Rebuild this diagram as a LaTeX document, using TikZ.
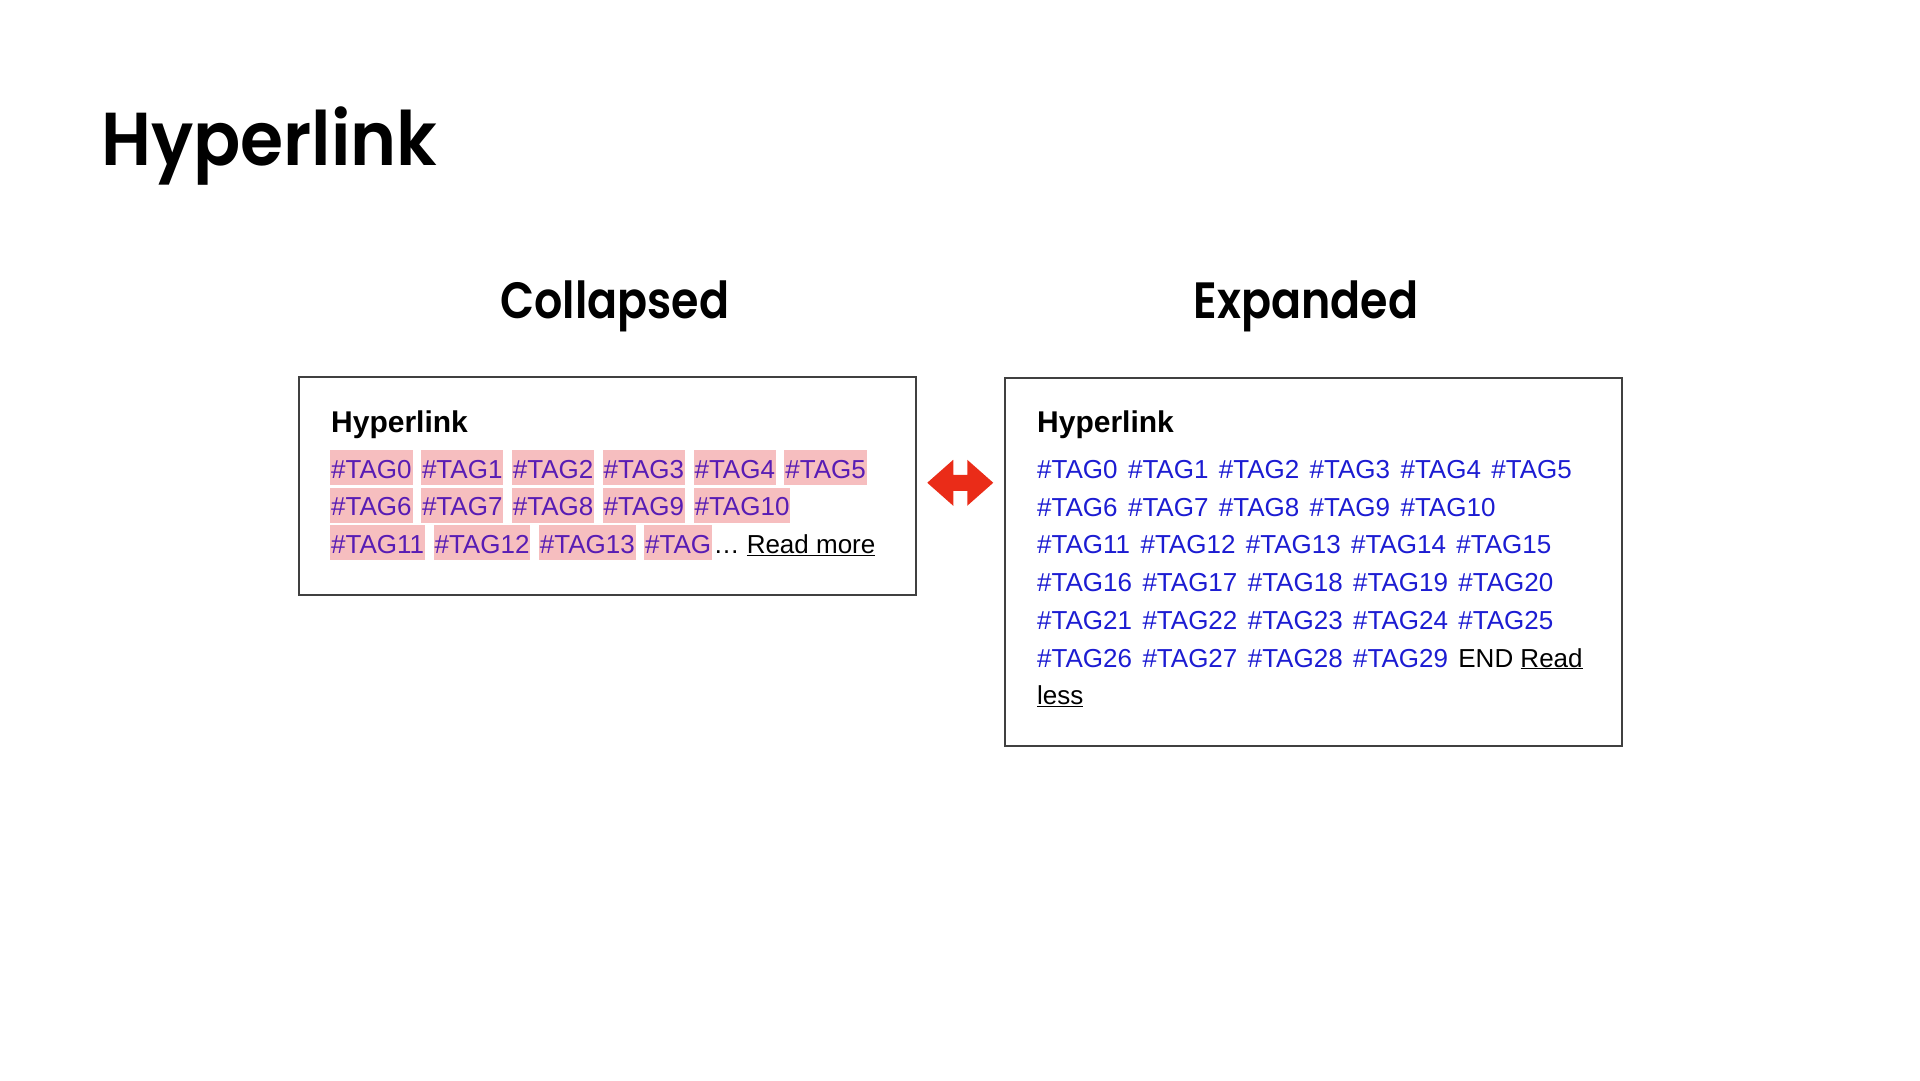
\documentclass[tikz,border=0pt]{standalone}
\usepackage{fontspec}
\setmainfont{Liberation Sans}
\newfontfamily\headfont[FakeStretch=0.93]{Poppins SemiBold}
\newfontfamily\subheadfont[FakeStretch=0.87]{Poppins SemiBold}
\usepackage{xcolor}
\usetikzlibrary{positioning, calc}
\definecolor{tagpink}{RGB}{246,190,191}
\definecolor{tagpurple}{RGB}{88,28,180}
\definecolor{tagblue}{RGB}{28,28,210}
\definecolor{swapred}{RGB}{234,44,24}
\tikzset{
  panel/.style={rectangle, draw=black!75, line width=1.5pt,
                anchor=north west, inner sep=0pt},
  heading/.style={anchor=base, inner sep=0pt,
                  font=\subheadfont\fontsize{51}{60}\selectfont},
  cardtitle/.style={anchor=base west, inner sep=0pt,
                    font=\bfseries\fontsize{30}{36}\selectfont},
  tag/.style={rectangle, inner xsep=1pt, inner ysep=0pt,
              text height=28pt, text depth=7pt,
              font=\fontsize{26}{30}\selectfont},
  tagpinkbox/.style={tag, fill=tagpink, text=tagpurple},
  tagplain/.style={tag, text=tagblue},
  tagtext/.style={tag, text=black},
}

\begin{document}
\begin{tikzpicture}[x=1pt, y=-1pt]
  \useasboundingbox (0,0) rectangle (1920,1080);

  \node[heading, anchor=base west,
        font=\headfont\fontsize{75}{88}\selectfont] (title)
    at (101,165) {Hyperlink};
  \node[heading] (coltitle) at (615,318) {Collapsed};
  \node[heading] (exptitle) at (1306,318) {Expanded};

  \node[panel, minimum width=617pt, minimum height=218pt] (lbox) at (298,376) {};
  \node[panel, minimum width=617pt, minimum height=368pt] (rbox) at (1004,377) {};

  % Collapsed card
  \node[cardtitle] (lhead) at ($(lbox.north west)+(33,56)$) {Hyperlink};
  \foreach \first/\last [count=\r from 0] in {0/5, 6/10, 11/13} {
    \node[tagpinkbox, anchor=base west] (l\first)
      at ($(lbox.north west)+(32,{102+37.7*\r})$) {\#TAG\first};
    \pgfmathtruncatemacro\nxt{\first+1}
    \foreach \n in {\nxt,...,\last} {
      \pgfmathtruncatemacro\prv{\n-1}
      \node[tagpinkbox, right=8pt of l\prv] (l\n) {\#TAG\n};
    }
  }
  \node[tagpinkbox, right=8pt of l13] (lcut) {\#TAG};
  \node[tagtext, right=0pt of lcut] (lmore) {…\ \underline{Read more}};

  % Expanded card
  \node[cardtitle] (rhead) at ($(rbox.north west)+(33,55.5)$) {Hyperlink};
  \foreach \first/\last [count=\r from 0] in {0/5, 6/10, 11/15, 16/20, 21/25, 26/29} {
    \node[tagplain, anchor=base west] (r\first)
      at ($(rbox.north west)+(32,{101.5+37.7*\r})$) {\#TAG\first};
    \pgfmathtruncatemacro\nxt{\first+1}
    \foreach \n in {\nxt,...,\last} {
      \pgfmathtruncatemacro\prv{\n-1}
      \node[tagplain, right=8pt of r\prv] (r\n) {\#TAG\n};
    }
  }
  \node[tagtext, right=8pt of r29] (rend) {END \underline{Read}};
  \node[tagtext, anchor=base west] (rless)
    at ($(rbox.north west)+(32,{101.5+37.7*6})$) {\underline{less}};

  % Toggle arrow between the cards
  \coordinate (mid) at ($(lbox.east)!0.5!(lbox.east -| rbox.west)$);
  \coordinate (swap) at ($(mid)+(0,-3)$);
  \fill[swapred] (swap) ++(-33,0) -- ++(26,-23) -- ++(0,15) -- ++(14,0)
    -- ++(0,-15) -- ++(26,23) -- ++(-26,23) -- ++(0,-15) -- ++(-14,0)
    -- ++(0,15) -- cycle;
\end{tikzpicture}
\end{document}
